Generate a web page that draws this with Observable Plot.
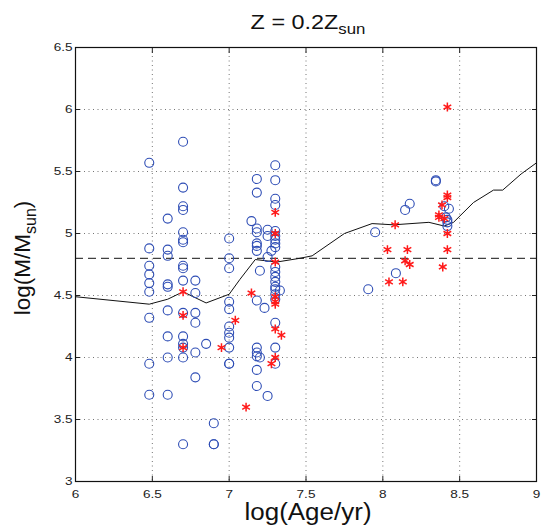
<!DOCTYPE html>
<html><head><meta charset="utf-8">
<script src="https://cdn.jsdelivr.net/npm/d3@7"></script>
<script src="https://cdn.jsdelivr.net/npm/@observablehq/plot@0.6"></script>
<style>
body{margin:0;background:#fff}
svg{font-family:"Liberation Sans",Arial,Helvetica,sans-serif}
</style>
</head><body><div id="chart"></div>
<script>
const titleMain = "Z = 0.2Z";
const titleSub = "sun";
const xLabel = "log(Age/yr)";
const yLabelMain = "log(M/M";
const yLabelSub = "sun";
const yLabelEnd = ")";

const xTicks = [6, 6.5, 7, 7.5, 8, 8.5, 9];
const yTicks = [3, 3.5, 4, 4.5, 5, 5.5, 6, 6.5];
const thresholdMass = 4.8;

// blue open circles
const circleAge = [
  6.48,6.48,6.48,6.48,6.48,6.48,6.48,6.48,6.48,
  6.60,6.60,6.60,6.60,6.60,6.60,6.60,6.60,6.60,
  6.70,6.70,6.70,6.70,6.70,6.70,6.70,6.70,6.70,6.70,6.70,6.70,6.70,6.70,6.70,6.70,
  6.78,6.78,6.78,6.78,6.78,6.78,
  6.85,6.90,6.90,6.90,
  7.00,7.00,7.00,7.00,7.00,7.00,7.00,7.00,7.00,7.00,7.00,
  7.18,7.18,7.18,7.18,7.18,7.18,7.18,7.18,7.18,7.18,7.18,7.18,7.18,
  7.145,7.20,7.20,7.23,7.25,7.25,7.25,7.25,7.275,
  7.30,7.30,7.30,7.30,7.30,7.30,7.30,7.30,7.30,7.30,7.30,7.30,7.30,7.30,7.30,7.30,7.30,7.30,7.30,7.30,
  7.33,
  7.905,7.95,8.085,8.145,8.175,8.345,8.345,8.40,8.43,8.41,8.42,8.42,8.42
];
const circleMass = [
  5.57,4.88,4.74,4.67,4.60,4.53,4.32,3.95,3.70,
  5.12,4.87,4.82,4.59,4.57,4.38,4.17,4.00,3.70,
  5.74,5.37,5.22,5.19,5.01,4.95,4.93,4.74,4.72,4.62,4.36,4.17,4.11,4.08,4.00,3.30,
  4.62,4.52,4.36,4.28,4.04,3.84,
  4.11,3.47,3.30,3.30,
  4.96,4.80,4.72,4.45,4.39,4.25,4.20,4.16,4.08,3.95,3.95,
  5.44,5.33,5.04,5.01,4.92,4.90,4.86,4.46,4.08,4.04,4.01,3.90,3.77,
  5.10,4.70,4.00,4.40,5.03,4.98,4.81,3.69,4.86,
  5.55,5.43,5.28,5.23,5.02,4.98,4.95,4.92,4.89,4.73,4.69,4.65,4.61,4.57,4.55,4.51,4.47,4.28,4.08,3.95,
  4.54,
  4.55,5.01,4.68,5.19,5.24,5.43,5.42,5.22,5.20,5.13,5.11,5.09,5.06
];

// red asterisks
const starAge = [
  6.70,6.70,6.70,6.95,7.04,7.11,
  7.145,7.30,7.30,7.30,7.30,7.30,7.30,7.30,7.30,7.34,7.275,
  8.42,8.42,8.42,8.385,8.365,8.365,8.40,8.08,8.42,8.03,8.16,8.42,8.145,8.175,8.39,8.04,8.13
];
const starMass = [
  4.53,4.34,4.08,4.08,4.30,3.60,
  4.52,5.17,5.00,4.77,4.49,4.45,4.43,4.23,4.00,4.18,3.95,
  6.02,5.31,5.29,5.23,5.15,5.13,5.12,5.07,5.00,4.87,4.87,4.87,4.78,4.75,4.73,4.61,4.61
];

// black solid curve
const curveAge  = [6.00,6.48,6.60,6.70,6.85,7.00,7.07,7.17,7.31,7.46,7.54,7.75,7.93,8.07,8.30,8.40,8.46,8.59,8.72,8.78,8.90,9.00];
const curveMass = [4.49,4.43,4.47,4.53,4.44,4.51,4.63,4.79,4.77,4.80,4.82,5.00,5.08,5.07,5.09,5.06,5.09,5.25,5.35,5.35,5.48,5.57];

const circles = circleAge.map((a, i) => ({age: a, mass: circleMass[i]}));
const stars = starAge.map((a, i) => ({age: a, mass: starMass[i]}));
const curve = curveAge.map((a, i) => ({age: a, mass: curveMass[i]}));

const W = 542, H = 529;
const mT = 47, mB = 48, mL = 75, mR = 6;
const fmt = d => String(d);
const gridStyle = {stroke: "#666", strokeOpacity: 0.9, strokeWidth: 1, strokeDasharray: "1,3.5"};

const chart = Plot.plot({
  width: W, height: H,
  marginTop: mT, marginBottom: mB, marginLeft: mL, marginRight: mR,
  style: {fontFamily: '"Liberation Sans", Arial, sans-serif', fontSize: "11px", background: "#fff", color: "#222"},
  x: {domain: [6, 9]},
  y: {domain: [3, 6.5]},
  marks: [
    Plot.gridX(xTicks.slice(1, -1), gridStyle),
    Plot.gridY(yTicks.slice(1, -1), gridStyle),
    Plot.ruleY([thresholdMass], {stroke: "#111", strokeWidth: 1, strokeDasharray: "8,5"}),
    Plot.line(curve, {x: "age", y: "mass", stroke: "#111", strokeWidth: 1}),
    Plot.dot(circles, {x: "age", y: "mass", r: 4.5, stroke: "#2e4db5", strokeWidth: 1.1, fill: "none"}),
    Plot.dot(stars, {x: "age", y: "mass", symbol: "asterisk", r: 4.2, stroke: "#ff1a1a", strokeWidth: 1.5}),
    Plot.axisX(xTicks, {anchor: "bottom", tickSize: -5, tickPadding: 13, tickFormat: fmt, label: null, fontSize: 11.5}),
    Plot.axisX(xTicks, {anchor: "top", tickSize: -5, tickPadding: 11, tickFormat: () => "", label: null}),
    Plot.axisY(yTicks, {anchor: "left", tickSize: -5, tickPadding: 8, tickFormat: fmt, label: null, fontSize: 11.5}),
    Plot.axisY(yTicks, {anchor: "right", tickSize: -5, tickPadding: 9, tickFormat: () => "", label: null}),
    Plot.frame({stroke: "#111", strokeWidth: 1.2})
  ]
});

document.getElementById("chart").appendChild(chart);

const svg = d3.select(chart);

// the reference is slightly stretched horizontally: widen tick labels
svg.selectAll('g[aria-label$="tick label"] text').each(function() {
  const tr = this.getAttribute("transform") || "";
  this.setAttribute("transform", tr + " scale(1.18,1)");
});

const cx = 308;

// title
const t = svg.append("text")
  .attr("transform", `translate(${cx},29) scale(1.2,1)`)
  .attr("text-anchor", "middle")
  .attr("font-size", 19.5).attr("fill", "#111");
t.append("tspan").text(titleMain);
t.append("tspan").attr("font-size", 14).attr("dy", 5).text(titleSub);

// x label
svg.append("text")
  .attr("transform", `translate(${cx},520) scale(1.13,1)`)
  .attr("text-anchor", "middle")
  .attr("font-size", 23).attr("fill", "#111")
  .text(xLabel);

// y label
const yl = svg.append("text")
  .attr("transform", `translate(30,258) rotate(-90)`)
  .attr("text-anchor", "middle")
  .attr("font-size", 22.5).attr("fill", "#111");
yl.append("tspan").text(yLabelMain);
yl.append("tspan").attr("font-size", 16).attr("dy", 6).text(yLabelSub);
yl.append("tspan").attr("dy", -6).text(yLabelEnd);
</script>
</body></html>
